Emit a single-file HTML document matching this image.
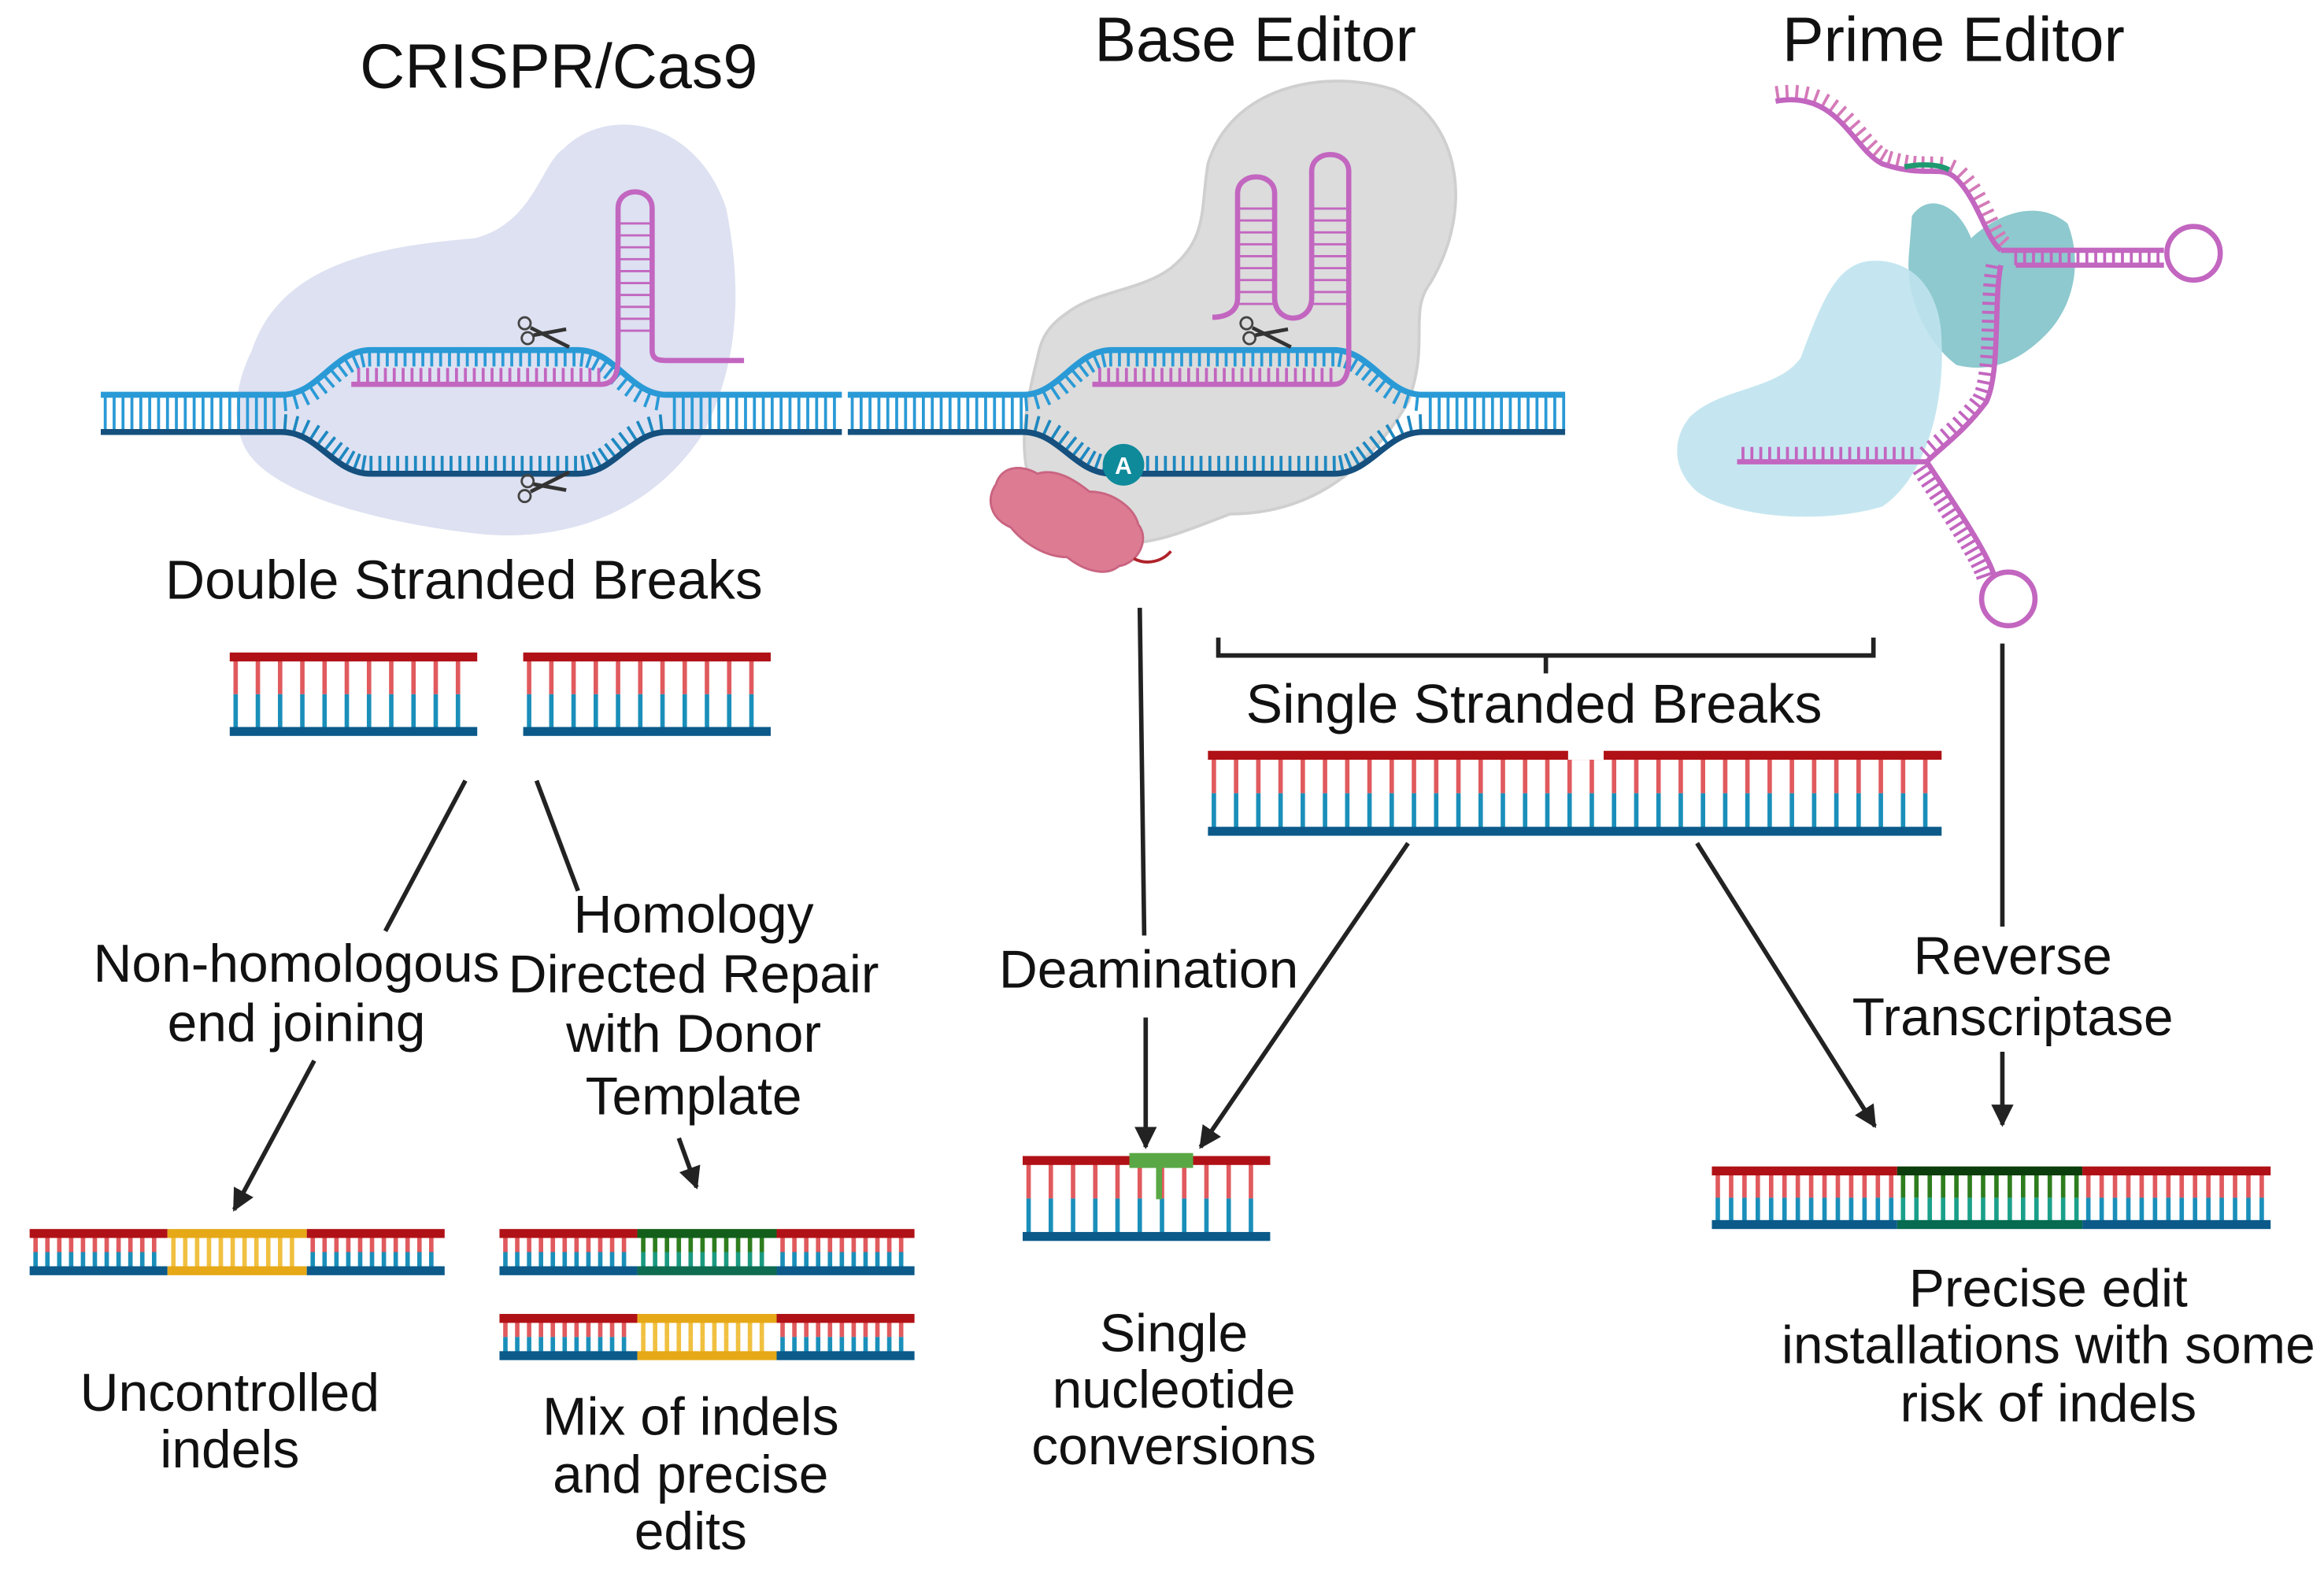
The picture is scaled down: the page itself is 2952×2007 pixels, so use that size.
<!DOCTYPE html>
<html><head><meta charset="utf-8"><style>
html,body{margin:0;padding:0;background:#fff;}
svg{display:block;}
text{font-family:"Liberation Sans",sans-serif;fill:#111;}
</style></head><body>
<svg id="s" xmlns="http://www.w3.org/2000/svg" width="2952" height="2007" viewBox="0 0 1568 1060.6" preserveAspectRatio="none">
<defs>
<marker id="ah" viewBox="0 0 10 10" refX="9" refY="5" markerWidth="5" markerHeight="5" orient="auto"><path d="M0,0 L10,5 L0,10 z" fill="#222"/></marker>
</defs>
<rect width="1568" height="1061" fill="#fff"/>
<path d="M170,235 C190,175 260,165 320,160 C360,150 365,110 380,100 C410,70 470,80 490,140 C500,190 500,240 475,290 C440,345 380,365 320,358 C250,350 180,330 165,300 C155,280 160,255 170,235 z" fill="#dde1f1"/>
<path d="M700,240 C690,280 680,330 720,355 C760,375 790,360 830,345 C880,345 920,320 950,270 C965,230 950,210 965,190 C995,140 985,80 940,60 C890,45 830,60 815,110 C810,140 815,160 790,180 C770,195 740,195 720,210 C705,220 702,230 700,240 z" fill="#dcdcdc" stroke="#cfcfcf" stroke-width="2"/>
<path d="M672,325 C676,312 690,312 700,318 C712,314 725,322 735,330 C750,330 765,340 768,352 C776,362 768,378 755,380 C745,388 730,382 720,374 C705,374 690,364 682,354 C668,348 665,335 672,325 z" fill="#dd7b93" stroke="#c96480" stroke-width="1.5"/>
<path d="M765,375 C775,380 785,376 790,370" stroke="#b0222a" stroke-width="2" fill="none"/>
<path d="M1290,145 C1300,130 1320,135 1330,160 C1340,150 1370,130 1395,150 C1405,175 1400,205 1380,225 C1360,245 1340,250 1320,245 C1300,230 1285,200 1288,170 z" fill="#79bfc5" opacity="0.85"/>
<path d="M1140,280 C1160,260 1200,262 1215,240 C1230,200 1240,175 1265,175 C1295,175 1310,200 1310,230 C1312,270 1300,320 1270,340 C1230,352 1170,348 1145,330 C1128,315 1128,295 1140,280 z" fill="#bfe3ee" opacity="0.9"/>
<g id="dyn"></g>
<text x="377" y="59" font-size="42" text-anchor="middle">CRISPR/Cas9</text>
<text x="847" y="41" font-size="42" text-anchor="middle">Base Editor</text>
<text x="1318" y="41" font-size="42" text-anchor="middle">Prime Editor</text>
<text x="313" y="402" font-size="37" text-anchor="middle">Double Stranded Breaks</text>
<g font-size="36" text-anchor="middle">
<text x="200" y="659">Non-homologous</text><text x="200" y="699">end joining</text>
<text x="468" y="626">Homology</text><text x="468" y="666">Directed Repair</text><text x="468" y="706">with Donor</text><text x="468" y="748">Template</text>
<text x="155" y="947">Uncontrolled</text><text x="155" y="985">indels</text>
<text x="466" y="963">Mix of indels</text><text x="466" y="1002">and precise</text><text x="466" y="1040">edits</text>
<text x="775" y="663">Deamination</text>
<text x="1035" y="485" font-size="37">Single Stranded Breaks</text>
<text x="792" y="907">Single</text><text x="792" y="945">nucleotide</text><text x="792" y="983">conversions</text>
<text x="1358" y="654">Reverse</text><text x="1358" y="695">Transcriptase</text>
<text x="1382" y="877">Precise edit</text><text x="1382" y="915">installations with some</text><text x="1382" y="954">risk of indels</text>
</g>
<g stroke="#222" stroke-width="3" fill="none">
<line x1="314" y1="524" x2="260" y2="625"/>
<line x1="362" y1="524" x2="390" y2="598"/>
<line x1="212" y1="712" x2="158" y2="812" marker-end="url(#ah)"/>
<line x1="458" y1="764" x2="470" y2="797" marker-end="url(#ah)"/>
<line x1="769" y1="408" x2="772" y2="628"/>
<line x1="773" y1="683" x2="773" y2="770" marker-end="url(#ah)"/>
<path d="M822,428 V440 H1264 V428 M1043,440 V452"/>
<line x1="950" y1="566" x2="810" y2="770" marker-end="url(#ah)"/>
<line x1="1145" y1="566" x2="1265" y2="756" marker-end="url(#ah)"/>
<line x1="1351" y1="432" x2="1351" y2="622"/>
<line x1="1351" y1="706" x2="1351" y2="755" marker-end="url(#ah)"/>
</g>
</svg>
<script>
var NS="http://www.w3.org/2000/svg",g=document.getElementById('dyn');
function el(t,a){var e=document.createElementNS(NS,t);for(var k in a)e.setAttribute(k,a[k]);g.appendChild(e);return e;}
function ladder(x1,x2,yt,yb,sp,ct,cb,tt,tb){
  var m=(yt+yb)/2;
  for(var x=x1+4;x<x2-2;x+=sp){
    el('line',{x1:x,y1:yt,x2:x,y2:m,stroke:tt||'#e05a5e','stroke-width':3});
    el('line',{x1:x,y1:m,x2:x,y2:yb,stroke:tb||'#1a8fba','stroke-width':3});
  }
  el('rect',{x:x1,y:yt-3,width:x2-x1,height:6,fill:ct||'#b01116'});
  el('rect',{x:x1,y:yb-3,width:x2-x1,height:6,fill:cb||'#0b5a8a'});
}
ladder(155,322,441,491,15);ladder(353,520,441,491,15);
ladder(815,1310,507,558,15);
el('rect',{x:1058,y:500,width:24,height:10,fill:'#fff'});
ladder(20,113,828,853,8);ladder(113,207,828,853,8,'#e6a817','#e6a817','#f0c040','#f0c040');ladder(207,300,828,853,8);
ladder(337,430,828,853,8);ladder(430,524,828,853,8,'#125e1a','#0d6b50','#2e7d1e','#1a9a80');ladder(524,617,828,853,8);
ladder(337,430,885,910,8);ladder(430,524,885,910,8,'#e6a817','#e6a817','#f0c040','#f0c040');ladder(524,617,885,910,8);
ladder(690,857,779,830,15);
el('rect',{x:762,y:774,width:43,height:10,fill:'#5aa845'});
el('line',{x1:782,y1:780,x2:782,y2:805,stroke:'#5aa845','stroke-width':4});
ladder(1155,1280,786,822,9);ladder(1280,1405,786,822,9,'#0c3d0c','#066b50','#2e7d1e','#1aa08a');ladder(1405,1532,786,822,9);
function ticks(d,len,side,col,step){
  var p=document.createElementNS(NS,'path');p.setAttribute('d',d);g.appendChild(p);
  var L=p.getTotalLength();g.removeChild(p);
  for(var s=2;s<L;s+=step){var a=p.getPointAtLength(s),b=p.getPointAtLength(Math.min(L,s+0.5));
    var dx=b.x-a.x,dy=b.y-a.y,n=Math.hypot(dx,dy)||1,nx=-dy/n*side,ny=dx/n*side;
    el('line',{x1:a.x,y1:a.y,x2:a.x+nx*len,y2:a.y+ny*len,stroke:col,'stroke-width':2});}
}
function helix(x1,x2,b1,b2){
  var top='M'+x1+',265 H'+b1+' C'+(b1+25)+',265 '+(b1+35)+',235 '+(b1+60)+',235 H'+(b2-60)+' C'+(b2-35)+',235 '+(b2-25)+',265 '+b2+',265 H'+x2;
  var bot='M'+x1+',290 H'+b1+' C'+(b1+25)+',290 '+(b1+35)+',318 '+(b1+60)+',318 H'+(b2-60)+' C'+(b2-35)+',318 '+(b2-25)+',290 '+b2+',290 H'+x2;
  for(var x=x1+3;x<x2;x+=6){
    if(x<b1||x>b2) el('line',{x1:x,y1:266,x2:x,y2:289,stroke:'#2a9ad6','stroke-width':2});
  }
  ticks(top.replace('M'+x1+',265 H'+b1,'M'+b1+',265').replace(' H'+x2,''),11,1,'#2a9ad6',6);
  ticks(bot.replace('M'+x1+',290 H'+b1,'M'+b1+',290').replace(' H'+x2,''),12,-1,'#1e88c0',6);
  el('path',{d:top,stroke:'#2a9ad6','stroke-width':4,fill:'none'});
  el('path',{d:bot,stroke:'#15507e','stroke-width':4,fill:'none'});
}
helix(68,568,190,450);helix(572,1056,690,960);
function guide(d){el('path',{d:d,stroke:'#c266c0','stroke-width':3.5,fill:'none'});}
for(var x=242;x<408;x+=6)el('line',{x1:x,y1:247,x2:x,y2:258,stroke:'#c266c0','stroke-width':2});
guide('M237,258 H405 C415,258 417,250 417,240 V140 C417,125 440,125 440,140 V235 C440,242 445,242 452,242 H502');
for(var y=150;y<230;y+=8)el('line',{x1:418,y1:y,x2:439,y2:y,stroke:'#c266c0','stroke-width':1.5});
for(var x=742;x<900;x+=6)el('line',{x1:x,y1:247,x2:x,y2:258,stroke:'#c266c0','stroke-width':2});
guide('M737,258 H900 C908,258 910,250 910,240 V115 C910,100 885,100 885,115 V200 C885,218 860,218 860,200 V130 C860,115 835,115 835,130 V200 C835,210 826,213 818,213');
for(var y=140;y<205;y+=8){el('line',{x1:836,y1:y,x2:859,y2:y,stroke:'#c266c0','stroke-width':1.5});el('line',{x1:886,y1:y,x2:909,y2:y,stroke:'#c266c0','stroke-width':1.5});}
el('circle',{cx:758,cy:312,r:14,fill:'#0f8a9a'});
var t=el('text',{x:758,y:318,'font-size':16,'text-anchor':'middle','font-weight':'bold'});t.style.fill='#fff';t.textContent='A';
function sc(x,y,f){el('circle',{cx:x-14,cy:y-8*f,r:4,fill:'none',stroke:'#444','stroke-width':1.5});el('circle',{cx:x-12,cy:y+2*f,r:4,fill:'none',stroke:'#444','stroke-width':1.5});
el('line',{x1:x-10,y1:y-5*f,x2:x+16,y2:y+8*f,stroke:'#333','stroke-width':2.5});el('line',{x1:x-8,y1:y,x2:x+14,y2:y-4*f,stroke:'#333','stroke-width':2.5});}
sc(368,225,1);sc(368,325,-1);sc(855,225,1);
var r1='M1198,68 C1240,60 1250,100 1270,110 C1300,120 1310,110 1320,120 C1335,135 1340,160 1350,168';
ticks(r1,10,-1,'#d47ab8',6);
guide(r1);
el('path',{d:'M1285,112 C1295,110 1308,110 1315,114',stroke:'#1e9a70','stroke-width':3.5,fill:'none'});
guide('M1350,168 H1460');
for(var x=1360;x<1458;x+=6)el('line',{x1:x,y1:168,x2:x,y2:178,stroke:'#c266c0','stroke-width':2});
guide('M1460,178 H1360');
el('circle',{cx:1480,cy:170,r:18,fill:'#fff',stroke:'#c266c0','stroke-width':3.5});
var r2='M1350,178 C1345,200 1350,250 1340,270 C1325,290 1310,300 1300,310';
ticks(r2,10,1,'#c266c0',6);guide(r2);
guide('M1300,310 H1172');
for(var x=1176;x<1295;x+=6)el('line',{x1:x,y1:300,x2:x,y2:310,stroke:'#c266c0','stroke-width':2});
var r3='M1300,310 C1320,340 1340,370 1345,385';
ticks(r3,12,1,'#c266c0',5);guide(r3);
el('circle',{cx:1355,cy:402,r:18,fill:'#fff',stroke:'#c266c0','stroke-width':3.5});
</script>
</body></html>
